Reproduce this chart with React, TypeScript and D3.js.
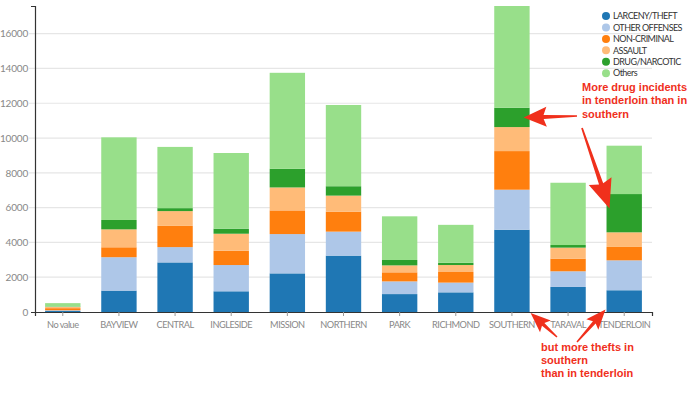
import { useEffect, useRef } from 'react';
import * as d3 from 'd3';

const categories = ["No value", "BAYVIEW", "CENTRAL", "INGLESIDE", "MISSION", "NORTHERN", "PARK", "RICHMOND", "SOUTHERN", "TARAVAL", "TENDERLOIN"];
const seriesNames = ["LARCENY/THEFT", "OTHER OFFENSES", "NON-CRIMINAL", "ASSAULT", "DRUG/NARCOTIC", "Others"];
const larceny = [60, 1230, 2850, 1190, 2220, 3240, 1030, 1130, 4730, 1440, 1250];
const otherOffenses = [40, 1920, 880, 1510, 2260, 1380, 730, 560, 2300, 900, 1720];
const nonCriminal = [120, 570, 1220, 820, 1360, 1150, 520, 610, 2220, 730, 770];
const assault = [70, 1030, 850, 980, 1320, 920, 400, 400, 1380, 630, 840];
const drug = [20, 540, 170, 290, 1070, 540, 310, 130, 1110, 150, 2200];
const others = [200, 4750, 3520, 4350, 5520, 4670, 2510, 2180, 5850, 3580, 2780];
const yTicks = [0, 2000, 4000, 6000, 8000, 10000, 12000, 14000, 16000];
const colors = ["#1f77b4", "#aec7e8", "#ff7f0e", "#ffbb78", "#2ca02c", "#98df8a"];

const W = 689;
const H = 399;

// thin-shaft, big-head arrow as a polygon (annotation only)
function arrowPath(x1, y1, x2, y2, headLen, headHalf, shaft) {
  const dx = x2 - x1, dy = y2 - y1;
  const len = Math.sqrt(dx * dx + dy * dy);
  const ux = dx / len, uy = dy / len;
  const px = -uy, py = ux;
  const bx = x2 - ux * headLen, by = y2 - uy * headLen;
  const pts = [
    [x1 + px * shaft * 0.4, y1 + py * shaft * 0.4],
    [bx + px * shaft, by + py * shaft],
    [bx + px * headHalf - ux * 3, by + py * headHalf - uy * 3],
    [x2, y2],
    [bx - px * headHalf - ux * 3, by - py * headHalf - uy * 3],
    [bx - px * shaft, by - py * shaft],
    [x1 - px * shaft * 0.4, y1 - py * shaft * 0.4],
  ];
  return "M" + pts.map(p => p.join(",")).join("L") + "Z";
}

const App = () => {
  const svgRef = useRef(null);

  useEffect(() => {
    const svg = d3.select(svgRef.current);
    svg.selectAll("*").remove();

    const margin = { top: 6, right: 37, bottom: 87, left: 35 };
    const values = [larceny, otherOffenses, nonCriminal, assault, drug, others];
    const rows = categories.map((c, i) => {
      const r = { cat: c };
      seriesNames.forEach((s, j) => { r[s] = values[j][i]; });
      return r;
    });
    const stacked = d3.stack().keys(seriesNames)(rows);
    const maxTotal = d3.max(rows, r => d3.sum(seriesNames, s => r[s]));

    const x = d3.scaleBand()
      .domain(categories)
      .range([margin.left, W - margin.right])
      .paddingInner(0.37)
      .paddingOuter(0.18);

    const y = d3.scaleLinear()
      .domain([0, maxTotal])
      .range([H - margin.bottom, margin.top]);

    const font = "'Lato', sans-serif";

    // grid lines
    svg.append("g")
      .selectAll("line")
      .data(yTicks.slice(1))
      .enter()
      .append("line")
      .attr("x1", margin.left - 6)
      .attr("x2", W - margin.right)
      .attr("y1", d => y(d))
      .attr("y2", d => y(d))
      .attr("stroke", "#e6e6e6")
      .attr("stroke-width", 1.2);

    // bars
    svg.append("g")
      .selectAll("g")
      .data(stacked)
      .enter()
      .append("g")
      .attr("fill", (d, i) => colors[i])
      .selectAll("rect")
      .data(d => d)
      .enter()
      .append("rect")
      .attr("x", d => x(d.data.cat))
      .attr("y", d => y(d[1]))
      .attr("width", x.bandwidth())
      .attr("height", d => y(d[0]) - y(d[1]));

    // y axis
    const yAxis = svg.append("g")
      .attr("transform", `translate(${margin.left},0)`)
      .call(d3.axisLeft(y).tickValues(yTicks).tickFormat(d3.format("d")).tickSizeInner(0).tickSizeOuter(4).tickPadding(7));
    yAxis.select(".domain").attr("stroke", "#333").attr("stroke-width", 1.2);
    yAxis.selectAll("text").attr("fill", "#888").attr("font-family", font).attr("font-size", 10).attr("letter-spacing", -0.2);

    // x axis
    const xAxis = svg.append("g")
      .attr("transform", `translate(0,${H - margin.bottom})`)
      .call(d3.axisBottom(x).tickSizeInner(4).tickSizeOuter(4).tickPadding(5));
    xAxis.select(".domain").attr("stroke", "#333").attr("stroke-width", 1.2);
    xAxis.selectAll(".tick line").attr("stroke", "#999");
    xAxis.selectAll("text").attr("fill", "#888").attr("font-family", font).attr("font-size", 9.2).attr("letter-spacing", -0.5);

    // legend
    const legend = svg.append("g").attr("transform", "translate(606,16)");
    seriesNames.forEach((s, i) => {
      const g = legend.append("g").attr("transform", `translate(0,${i * 11.45})`);
      g.append("circle").attr("r", 4).attr("fill", colors[i]);
      g.append("text")
        .attr("x", 7)
        .attr("dy", "0.35em")
        .attr("fill", "#333")
        .attr("font-family", font)
        .attr("font-size", 9)
        .attr("letter-spacing", -0.55)
        .text(s);
    });

    // annotations
    const red = "#f0301c";
    const note = (x0, y0, lines) => {
      const t = svg.append("text")
        .attr("x", x0)
        .attr("y", y0)
        .attr("fill", red)
        .attr("font-family", "'Liberation Sans', Arial, sans-serif")
        .attr("font-weight", "bold")
        .attr("font-size", 11);
      lines.forEach((l, i) => {
        t.append("tspan").attr("x", x0).attr("dy", i === 0 ? 0 : 13.3).text(l);
      });
    };
    note(582, 91, ["More drug incidents", "in tenderloin than in", "southern"]);
    note(541, 350.5, ["but more thefts in", "southern", "than in tenderloin"]);

    const south = x("SOUTHERN");
    const tender = x("TENDERLOIN");
    const sDrug = stacked[4][categories.indexOf("SOUTHERN")];
    const arrows = [
      [577, 116, south + x.bandwidth() - 6, y((sDrug[0] + sDrug[1]) / 2), 20, 10, 2],
      [582, 128, tender + 3, y(5950), 26, 12, 2.2],
      [557, 337, south + x.bandwidth() + 1, y(0) + 1, 17, 8, 1.8],
      [577, 342, tender - 1, y(140), 17, 8, 1.8],
    ];
    svg.append("g")
      .selectAll("path")
      .data(arrows)
      .enter()
      .append("path")
      .attr("d", a => arrowPath(a[0], a[1], a[2], a[3], a[4], a[5], a[6]))
      .attr("fill", red);
  }, []);

  return (
    <svg ref={svgRef} width={W} height={H} style={{ position: 'absolute', left: 0, top: 0 }}></svg>
  );
};

export default App;
